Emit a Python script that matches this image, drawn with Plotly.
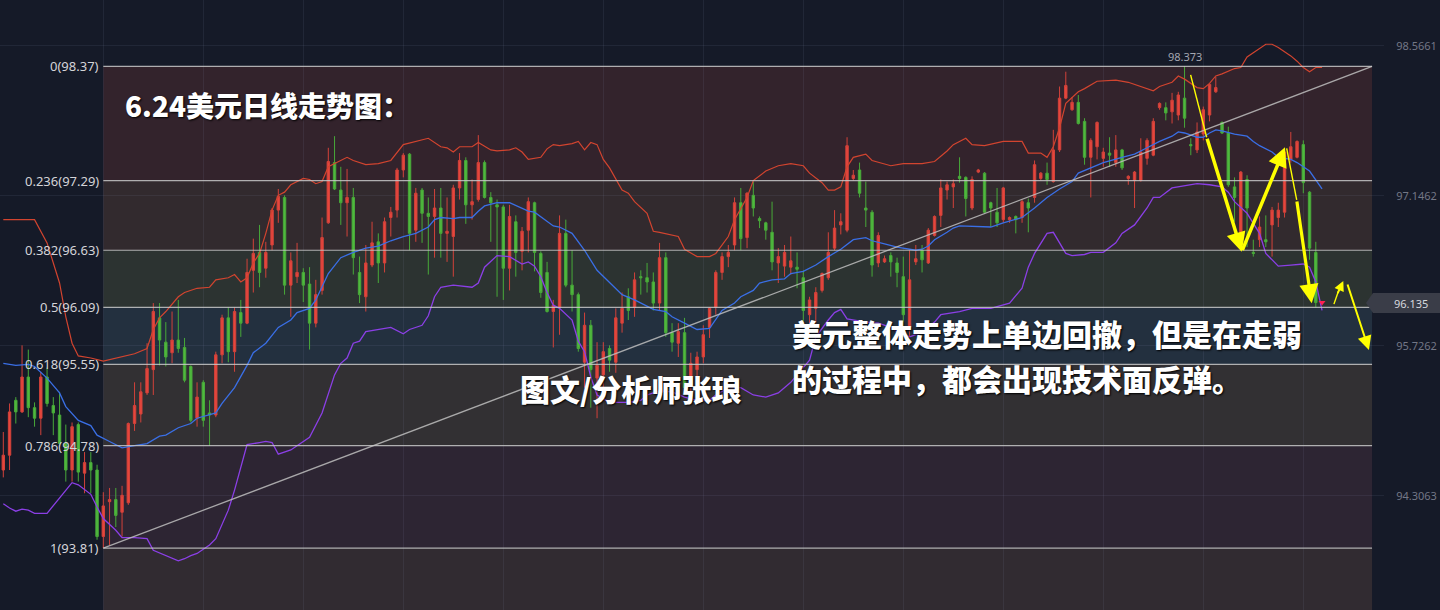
import plotly.graph_objects as go

# ---------------- data ----------------
days = list(range(211))

opens = [
    94.55, 94.69, 95.21, 95.10, 95.43, 95.14, 95.04, 95.43, 95.16, 95.07,
    94.80, 94.55, 94.98, 94.52, 94.62, 94.55, 93.92, 94.25, 94.27, 94.15,
    94.24, 94.99, 95.08, 95.28, 95.50, 95.99, 95.76, 95.66, 95.78, 95.71,
    95.53, 95.04, 95.38, 95.09, 95.07, 95.64, 95.99, 95.67, 96.04, 95.94,
    96.44, 96.61, 96.46, 96.68, 97.01, 97.13, 96.30, 96.38, 96.42, 96.31,
    95.94, 96.25, 96.89, 97.46, 97.20, 97.08, 97.13, 96.42, 96.19, 96.49,
    96.71, 96.51, 96.94, 97.01, 97.39, 97.54, 96.82, 97.20, 96.98, 96.95,
    97.03, 96.79, 96.76, 97.22, 97.48, 97.06, 97.11, 97.46, 97.13, 97.06,
    97.04, 96.46, 96.90, 96.62, 96.82, 97.08, 96.60, 96.42, 96.05, 96.09,
    96.79, 96.30, 96.21, 95.57, 95.92, 95.42, 95.45, 95.70, 95.57, 95.94,
    96.19, 96.09, 96.38, 96.37, 96.33, 96.13, 96.56, 95.85, 95.75, 95.85,
    95.34, 95.50, 95.62, 95.90, 96.09, 96.42, 96.57, 96.68, 97.08, 96.75,
    97.15, 96.93, 96.89, 96.80, 96.51, 96.48, 96.47, 96.47, 96.37, 96.02,
    96.08, 96.25, 96.37, 96.65, 96.87, 96.82, 97.31, 97.39, 97.03, 96.99,
    96.51, 96.52, 96.58, 96.51, 96.38, 95.89, 96.52, 96.63, 96.51, 96.77,
    96.96, 97.20, 97.23, 97.33, 97.32, 97.03, 97.37, 97.36, 97.08, 96.99,
    96.92, 96.92, 96.95, 96.94, 97.08, 97.13, 97.31, 97.36, 97.28, 97.58,
    98.07, 97.96, 98.03, 97.85, 97.51, 97.61, 97.50, 97.55, 97.46, 97.58,
    97.31, 97.29, 97.29, 97.50, 97.53, 97.98, 97.98, 97.94, 97.91, 98.07,
    97.63, 97.58, 97.73, 97.91, 98.13, 97.84, 97.74, 97.23, 96.79, 97.30,
    96.61, 96.73, 96.73, 96.87, 96.94, 96.99, 97.49, 97.51, 97.63, 97.18, 96.61,
]
highs = [
    94.91, 95.18, 95.24, 95.73, 95.69, 95.19, 95.48, 95.52, 95.24, 95.29,
    94.98, 95.00, 95.00, 94.72, 94.72, 94.60, 94.34, 94.38, 94.38, 94.40,
    95.00, 95.38, 95.38, 95.75, 96.13, 96.13, 95.95, 96.05, 96.16, 95.80,
    95.54, 95.38, 95.40, 95.21, 95.67, 96.02, 96.09, 96.09, 96.16, 96.55,
    96.74, 96.87, 96.71, 97.03, 97.21, 97.15, 96.61, 96.70, 96.46, 96.47,
    96.35, 96.94, 97.60, 97.71, 97.42, 97.40, 97.22, 96.57, 96.68, 96.90,
    96.79, 96.94, 97.04, 97.41, 97.55, 97.55, 97.22, 97.22, 97.13, 97.21,
    97.22, 97.13, 97.25, 97.55, 97.51, 97.30, 97.72, 97.48, 97.18, 97.11,
    97.06, 97.06, 96.96, 96.85, 97.13, 97.09, 96.62, 96.52, 96.16, 96.96,
    96.92, 96.63, 96.23, 96.04, 95.97, 95.76, 95.76, 95.73, 96.08, 96.23,
    96.27, 96.42, 96.44, 96.51, 96.42, 96.70, 96.61, 95.94, 95.94, 95.99,
    95.66, 95.67, 95.92, 96.09, 96.44, 96.61, 96.68, 97.13, 97.22, 97.18,
    97.28, 96.95, 96.90, 97.09, 96.65, 96.68, 96.76, 96.61, 96.44, 96.19,
    96.28, 96.42, 96.80, 97.01, 96.98, 97.70, 97.39, 97.46, 97.28, 97.01,
    96.80, 96.58, 96.61, 96.56, 96.57, 96.63, 96.68, 96.68, 96.84, 96.96,
    97.30, 97.28, 97.30, 97.51, 97.33, 97.33, 97.40, 97.37, 97.09, 97.22,
    97.23, 96.95, 96.96, 97.11, 97.12, 97.48, 97.37, 97.46, 97.77, 98.18,
    98.32, 98.08, 98.10, 97.88, 97.69, 97.85, 97.60, 97.70, 97.72, 97.59,
    97.34, 97.38, 97.69, 97.69, 97.88, 98.03, 98.03, 98.12, 98.13, 98.373,
    97.69, 97.84, 97.99, 98.21, 98.27, 97.85, 97.80, 97.32, 97.38, 97.34,
    96.73, 96.95, 96.96, 97.04, 97.08, 97.58, 97.75, 97.67, 97.67, 97.19, 96.71,
]
lows = [
    94.48, 94.55, 94.99, 95.09, 95.05, 94.96, 94.88, 95.15, 94.88, 94.79,
    94.44, 94.44, 94.44, 94.33, 94.33, 93.89, 93.81, 93.84, 94.01, 93.92,
    94.22, 94.92, 95.00, 95.26, 95.26, 95.54, 95.53, 95.56, 95.66, 95.38,
    95.00, 94.96, 94.96, 94.78, 95.05, 95.56, 95.57, 95.48, 95.81, 95.93,
    96.23, 96.28, 96.37, 96.63, 96.89, 96.21, 96.00, 96.32, 96.14, 95.69,
    95.90, 96.21, 96.88, 97.20, 96.87, 96.76, 96.40, 96.13, 96.05, 96.47,
    96.32, 96.42, 96.76, 96.94, 97.32, 96.63, 96.71, 96.70, 96.40, 96.56,
    96.56, 96.52, 96.38, 97.11, 96.88, 96.92, 97.09, 97.12, 96.71, 96.19,
    96.16, 96.25, 96.38, 96.44, 96.61, 96.43, 96.18, 96.04, 95.71, 95.83,
    96.28, 96.05, 95.67, 95.33, 95.14, 95.04, 95.24, 95.48, 95.47, 95.85,
    95.97, 96.00, 96.21, 96.23, 96.06, 96.06, 95.81, 95.67, 95.62, 95.28,
    95.17, 95.28, 95.56, 95.80, 96.02, 96.35, 96.47, 96.63, 96.63, 96.65,
    96.95, 96.84, 96.73, 96.44, 96.32, 96.38, 96.40, 96.27, 95.90, 95.94,
    95.90, 96.23, 96.35, 96.63, 96.78, 96.80, 97.29, 97.13, 96.85, 96.38,
    96.47, 96.51, 96.38, 96.28, 95.73, 95.81, 96.49, 96.42, 96.50, 96.76,
    96.85, 97.11, 97.03, 97.27, 96.95, 97.01, 97.36, 96.98, 96.85, 96.85,
    96.89, 96.89, 96.79, 96.89, 96.80, 97.08, 97.29, 97.25, 97.27, 97.56,
    98.06, 97.95, 97.82, 97.44, 97.13, 97.49, 97.42, 97.42, 97.42, 97.39,
    97.25, 97.03, 97.28, 97.44, 97.52, 97.96, 97.86, 97.83, 97.86, 97.79,
    97.53, 97.55, 97.67, 97.85, 98.12, 97.73, 97.23, 96.90, 96.73, 96.66,
    96.57, 96.66, 96.66, 96.57, 96.85, 96.94, 97.46, 97.50, 97.17, 96.54, 96.09,
]
closes = [
    94.69, 95.10, 95.10, 95.43, 95.14, 95.04, 95.43, 95.18, 95.09, 94.80,
    94.55, 94.96, 94.53, 94.62, 94.55, 93.92, 94.21, 94.27, 94.12, 94.31,
    94.99, 95.16, 95.29, 95.51, 96.05, 95.78, 95.62, 95.78, 95.70, 95.40,
    95.02, 95.24, 95.02, 95.07, 95.64, 95.99, 95.67, 96.05, 95.94, 96.42,
    96.60, 96.42, 96.61, 97.01, 97.14, 96.30, 96.53, 96.42, 96.30, 95.94,
    96.21, 96.75, 97.47, 97.21, 97.08, 97.13, 96.56, 96.21, 96.51, 96.70,
    96.51, 96.90, 96.99, 97.39, 97.53, 96.79, 97.17, 96.98, 96.95, 97.03,
    96.79, 96.81, 97.22, 97.48, 97.06, 97.09, 97.46, 97.13, 97.08, 97.04,
    96.46, 96.95, 96.61, 96.81, 97.09, 96.61, 96.23, 96.05, 96.11, 96.79,
    96.30, 96.21, 95.70, 95.92, 95.50, 95.54, 95.67, 95.59, 95.99, 96.08,
    96.06, 96.35, 96.37, 96.33, 96.13, 96.56, 95.85, 95.76, 95.86, 95.33,
    95.56, 95.62, 95.83, 96.08, 96.42, 96.57, 96.61, 97.08, 96.74, 97.17,
    97.03, 96.91, 96.82, 96.52, 96.57, 96.61, 96.53, 96.45, 96.06, 96.16,
    96.23, 96.41, 96.61, 96.84, 96.90, 97.62, 97.34, 97.17, 97.01, 96.49,
    96.77, 96.55, 96.52, 96.42, 96.02, 96.35, 96.55, 96.54, 96.82, 96.95,
    97.22, 97.25, 97.26, 97.31, 97.12, 97.30, 97.39, 96.99, 97.03, 96.89,
    97.22, 96.94, 96.92, 97.09, 97.03, 97.44, 97.36, 97.30, 97.58, 98.07,
    98.19, 98.03, 97.83, 97.51, 97.67, 97.84, 97.56, 97.53, 97.58, 97.41,
    97.33, 97.37, 97.56, 97.67, 97.85, 98.02, 97.93, 98.05, 98.10, 97.88,
    97.62, 97.75, 97.96, 98.20, 98.17, 97.74, 97.25, 97.13, 97.37, 97.03,
    96.60, 96.85, 96.71, 97.01, 97.01, 97.56, 97.61, 97.66, 97.27, 96.65, 96.135,
]

# Bollinger bands: (day index, price)
upper_band = [
    (0, 96.92), (5, 96.92), (7, 96.70), (9, 96.32), (10, 96.00), (11, 95.75), (12, 95.63),
    (14, 95.61), (16, 95.58), (18, 95.61), (21, 95.65), (23, 95.70), (24, 95.88), (25, 95.99),
    (26, 96.05), (28, 96.19), (29, 96.23), (31, 96.27), (33, 96.28), (34, 96.35), (36, 96.37),
    (37, 96.40), (38, 96.33), (39, 96.37), (40, 96.51), (41, 96.60), (42, 96.79), (43, 97.01),
    (44, 97.15), (45, 97.18), (46, 97.25), (48, 97.31), (49, 97.30), (50, 97.26), (51, 97.28),
    (52, 97.42), (53, 97.45), (55, 97.51), (56, 97.48), (58, 97.44), (60, 97.45), (62, 97.48),
    (64, 97.63), (66, 97.66), (68, 97.69), (70, 97.61), (71, 97.60), (72, 97.56), (73, 97.61),
    (75, 97.61), (76, 97.65), (78, 97.58), (79, 97.57), (81, 97.58), (82, 97.60), (83, 97.56),
    (84, 97.49), (86, 97.51), (87, 97.59), (88, 97.63), (89, 97.62), (91, 97.64), (92, 97.66),
    (93, 97.58), (94, 97.65), (95, 97.63), (96, 97.49), (97, 97.41), (99, 97.20), (100, 97.17),
    (101, 97.09), (103, 96.98), (104, 96.81), (105, 96.80), (108, 96.76), (109, 96.64),
    (111, 96.57), (113, 96.57), (114, 96.60), (116, 96.76), (117, 96.92), (119, 97.13),
    (120, 97.29), (122, 97.38), (124, 97.43), (126, 97.45), (128, 97.43), (129, 97.36),
    (131, 97.27), (132, 97.20), (133, 97.20), (134, 97.23), (135, 97.42), (136, 97.51),
    (138, 97.54), (139, 97.48), (141, 97.45), (142, 97.43), (144, 97.45), (147, 97.45),
    (149, 97.47), (151, 97.57), (152, 97.63), (153, 97.66), (154, 97.69), (155, 97.63),
    (157, 97.62), (160, 97.66), (163, 97.66), (164, 97.55), (166, 97.55), (167, 97.51),
    (168, 97.61), (169, 97.79), (170, 98.02), (172, 98.13), (173, 98.16), (175, 98.23),
    (178, 98.24), (180, 98.22), (182, 98.18), (184, 98.14), (185, 98.18), (187, 98.22),
    (188, 98.28), (189, 98.25), (191, 98.17), (192, 98.16), (193, 98.21), (194, 98.28),
    (195, 98.30), (197, 98.35), (198, 98.36), (199, 98.46), (200, 98.50), (202, 98.58),
    (203, 98.58), (204, 98.55), (206, 98.47), (207, 98.42), (208, 98.36), (209, 98.32),
    (210, 98.36), (211, 98.36),
]
middle_band = [
    (0, 95.56), (2, 95.54), (4, 95.55), (5, 95.53), (7, 95.42), (9, 95.28), (10, 95.15),
    (12, 95.02), (14, 94.97), (15, 94.88), (17, 94.82), (19, 94.76), (21, 94.78), (23, 94.80),
    (25, 94.87), (26, 94.88), (28, 94.95), (30, 94.99), (31, 95.04), (34, 95.09), (35, 95.18),
    (37, 95.33), (39, 95.54), (40, 95.66), (42, 95.75), (44, 95.90), (46, 95.97), (47, 96.04),
    (49, 96.08), (50, 96.16), (52, 96.41), (54, 96.56), (56, 96.61), (58, 96.65), (60, 96.67),
    (62, 96.72), (64, 96.76), (66, 96.79), (68, 96.85), (69, 96.92), (70, 96.94), (72, 96.93),
    (73, 96.94), (75, 96.94), (76, 97.00), (77, 97.05), (79, 97.08), (81, 97.08), (84, 97.00),
    (85, 96.99), (88, 96.86), (89, 96.85), (91, 96.79), (93, 96.63), (95, 96.44), (97, 96.32),
    (99, 96.21), (101, 96.16), (102, 96.13), (104, 96.07), (106, 96.05), (107, 96.00),
    (109, 95.94), (111, 95.88), (113, 95.89), (114, 95.97), (115, 96.06), (117, 96.13),
    (118, 96.19), (120, 96.25), (121, 96.32), (123, 96.35), (125, 96.36), (126, 96.41),
    (128, 96.43), (130, 96.49), (132, 96.57), (134, 96.64), (136, 96.73), (138, 96.75),
    (139, 96.72), (141, 96.69), (143, 96.66), (146, 96.63), (147, 96.64), (148, 96.67),
    (149, 96.73), (151, 96.80), (152, 96.84), (153, 96.86), (158, 96.85), (160, 96.89),
    (162, 96.92), (163, 96.94), (165, 97.03), (167, 97.13), (169, 97.21), (171, 97.28),
    (172, 97.36), (174, 97.41), (176, 97.46), (179, 97.51), (181, 97.54), (183, 97.60),
    (185, 97.66), (187, 97.71), (188, 97.75), (189, 97.74), (191, 97.70), (192, 97.70),
    (193, 97.74), (194, 97.77), (195, 97.76), (197, 97.73), (199, 97.71), (200, 97.66),
    (201, 97.62), (203, 97.56), (204, 97.51), (206, 97.49), (207, 97.46), (209, 97.38),
    (210, 97.30), (211, 97.21),
]
lower_band = [
    (0, 94.23), (1, 94.19), (2, 94.16), (3, 94.18), (4, 94.17), (5, 94.14), (7, 94.14),
    (9, 94.29), (11, 94.43), (12, 94.41), (14, 94.32), (15, 94.20), (16, 94.09), (18, 93.98),
    (19, 93.91), (21, 93.91), (23, 93.90), (24, 93.79), (26, 93.74), (28, 93.69), (29, 93.71),
    (30, 93.74), (31, 93.76), (33, 93.84), (34, 93.90), (36, 94.17), (37, 94.36), (39, 94.79),
    (41, 94.81), (42, 94.82), (43, 94.81), (44, 94.70), (46, 94.74), (47, 94.78), (49, 94.86),
    (51, 95.09), (52, 95.28), (53, 95.45), (54, 95.56), (55, 95.61), (56, 95.75), (57, 95.77),
    (58, 95.86), (60, 95.88), (62, 95.90), (64, 95.84), (65, 95.88), (67, 95.92), (68, 96.01),
    (69, 96.19), (70, 96.28), (72, 96.30), (75, 96.28), (76, 96.32), (77, 96.47), (79, 96.58),
    (81, 96.57), (83, 96.50), (84, 96.52), (85, 96.48), (86, 96.38), (87, 96.23), (88, 96.11),
    (89, 96.08), (91, 95.97), (92, 95.77), (93, 95.67), (94, 95.43), (95, 95.26), (97, 95.19),
    (100, 95.19), (102, 95.21), (103, 95.26), (105, 95.30), (107, 95.29), (109, 95.24),
    (111, 95.21), (113, 95.21), (114, 95.26), (116, 95.33), (118, 95.33), (120, 95.26),
    (122, 95.24), (124, 95.28), (126, 95.38), (129, 95.59), (130, 95.81), (132, 95.97),
    (133, 96.04), (134, 96.07), (135, 95.98), (138, 95.95), (140, 95.94), (142, 95.90),
    (143, 95.86), (145, 95.81), (147, 95.85), (149, 95.95), (150, 96.02), (153, 96.05),
    (155, 96.08), (158, 96.08), (161, 96.13), (163, 96.27), (164, 96.47), (165, 96.60),
    (167, 96.79), (168, 96.80), (169, 96.70), (170, 96.60), (171, 96.58), (173, 96.59),
    (174, 96.61), (176, 96.61), (178, 96.70), (179, 96.79), (181, 96.87), (183, 97.03),
    (184, 97.13), (185, 97.13), (187, 97.22), (189, 97.24), (191, 97.26), (193, 97.25),
    (195, 97.23), (196, 97.18), (197, 97.09), (199, 96.98), (201, 96.79), (202, 96.60),
    (204, 96.48), (206, 96.49), (208, 96.50), (209, 96.47), (210, 96.33), (211, 96.06),
]

fib_ratios = ["0", "0.236", "0.382", "0.5", "0.618", "0.786", "1"]
fib_prices = [98.37, 97.29, 96.63, 96.09, 95.55, 94.78, 93.81]
fib_span = (16, 219)
trend_line = [(16, 93.81), (219, 98.37)]
right_ticks = [98.5661, 97.1462, 95.7262, 94.3063]
last_price = 96.135
swing_high = (189, 98.373)

# yellow arrows (tail day, tail price, head day, head price, width, head size)
thin_leads = [(189.97, 98.29, 192.54, 97.70), (205.34, 97.595, 206.94, 97.106),
              (212.9, 96.12, 213.6, 96.24)]
arrows = [
    (192.54, 97.70, 198.15, 96.617, 3.5, 1.1),
    (198.15, 96.617, 205.07, 97.605, 3.5, 1.1),
    (206.94, 97.106, 209.34, 96.128, 3.2, 1.2),
    (213.4, 96.21, 214.4, 96.34, 2, 1.0),
    (215.0, 96.32, 218.5, 95.686, 2, 1.4),
]

title_text = "6.24美元日线走势图："
author_text = "图文/分析师张琅"
note_line1 = "美元整体走势上单边回撤，但是在走弱"
note_line2 = "的过程中，都会出现技术面反弹。"

# ---------------- figure ----------------
W, H = 1440, 610
ML, MR = 0, 56
BG = "#151a28"
zone_colors = ["#33232c", "#322a2e", "#2c3331", "#23303f", "#323033", "#2d2533", "#312b31"]

fig = go.Figure()

fig.add_trace(go.Candlestick(
    x=days, open=opens, high=highs, low=lows, close=closes,
    increasing=dict(line=dict(color="#d2423a", width=1), fillcolor="#e6463c"),
    decreasing=dict(line=dict(color="#48a939", width=1), fillcolor="#4fb93e"),
    whiskerwidth=0, hoverinfo="skip", showlegend=False,
))

for band, col, w in [(upper_band, "#d2442f", 1.2), (middle_band, "#3a6fe6", 1.3), (lower_band, "#8b3fe6", 1.3)]:
    fig.add_trace(go.Scatter(
        x=[p[0] for p in band], y=[p[1] for p in band], mode="lines",
        line=dict(color=col, width=w), hoverinfo="skip", showlegend=False,
    ))

fig.add_trace(go.Scatter(
    x=[p[0] for p in trend_line], y=[p[1] for p in trend_line], mode="lines",
    line=dict(color="rgba(190,190,190,0.85)", width=1.3), hoverinfo="skip", showlegend=False,
))

fig.add_trace(go.Scatter(
    x=[211], y=[last_price], mode="markers",
    marker=dict(symbol="triangle-down", size=6, color="#ff2050"),
    hoverinfo="skip", showlegend=False,
))

shapes = []
levels = fib_prices + [90.0]
for k in range(len(fib_prices)):
    shapes.append(dict(type="rect", xref="x", yref="y", x0=fib_span[0], x1=fib_span[1],
                       y0=levels[k], y1=levels[k + 1], fillcolor=zone_colors[k],
                       line=dict(width=0), layer="below"))
for p in fib_prices:
    shapes.append(dict(type="line", xref="x", yref="y", x0=fib_span[0], x1=fib_span[1],
                       y0=p, y1=p, line=dict(color="rgba(200,200,200,0.85)", width=1.2),
                       layer="above"))
for (x0, y0, x1, y1) in thin_leads:
    shapes.append(dict(type="line", xref="x", yref="y", x0=x0, y0=y0, x1=x1, y1=y1,
                       line=dict(color="#ffff00", width=1.4), layer="above"))

# price box on right axis
px_w = W - ML - MR
def paper_x(px):
    return (px - ML) / px_w
def paper_y(py):
    return (H - py) / H
shapes.append(dict(type="path", xref="paper", yref="paper",
                   path=(f"M {paper_x(1366)},{paper_y(303)} L {paper_x(1373)},{paper_y(293)} "
                         f"L {paper_x(1440)},{paper_y(293)} L {paper_x(1440)},{paper_y(313)} "
                         f"L {paper_x(1373)},{paper_y(313)} Z"),
                   fillcolor="#3a3d48", line=dict(width=0), layer="above"))

annotations = []
for r, p in zip(fib_ratios, fib_prices):
    annotations.append(dict(x=fib_span[0], y=p, xref="x", yref="y", text=f"{r}({p:.2f})",
                            showarrow=False, xanchor="right", yanchor="middle", xshift=-2,
                            font=dict(family="Noto Sans", size=13, color="#d4d4d8")))

annotations.append(dict(x=swing_high[0], y=swing_high[1], xref="x", yref="y",
                        text=f"{swing_high[1]:.3f}", showarrow=False, yanchor="bottom", yshift=0,
                        font=dict(family="Noto Sans", size=11, color="#a4a6b0")))

annotations.append(dict(x=paper_x(1411), y=paper_y(303), xref="paper", yref="paper",
                        text=f"{last_price:.3f}", showarrow=False, xanchor="center", yanchor="middle",
                        font=dict(family="Noto Sans", size=11, color="#d6d8de")))

for (tx, ty, hx, hy, w, hs) in arrows:
    annotations.append(dict(x=hx, y=hy, ax=tx, ay=ty, xref="x", yref="y", axref="x", ayref="y",
                            text="", showarrow=True, arrowhead=2, arrowsize=hs, arrowwidth=w,
                            arrowcolor="#ffff00", standoff=0, startstandoff=0))

txt_font = dict(family="Noto Sans CJK SC", color="#ffffff", weight=900, shadow="1px 1px 2px #000000")
annotations.append(dict(x=paper_x(123), y=paper_y(105), xref="paper", yref="paper", text=title_text,
                        showarrow=False, xanchor="left", yanchor="middle", font=dict(size=28, **txt_font)))
annotations.append(dict(x=paper_x(518), y=paper_y(388), xref="paper", yref="paper", text=author_text,
                        showarrow=False, xanchor="left", yanchor="middle", font=dict(size=30, **txt_font)))
annotations.append(dict(x=paper_x(790), y=paper_y(333), xref="paper", yref="paper", text=note_line1,
                        showarrow=False, xanchor="left", yanchor="middle", font=dict(size=30, **txt_font)))
annotations.append(dict(x=paper_x(790), y=paper_y(378), xref="paper", yref="paper", text=note_line2,
                        showarrow=False, xanchor="left", yanchor="middle", font=dict(size=30, **txt_font)))

grid = "rgba(140,150,180,0.11)"
x_lo = (0 - 3.3) / 6.25
x_hi = (W - MR - 3.3) / 6.25
y_hi = 98.999
y_lo = 98.999 - 0.009466 * H

fig.update_layout(
    width=W, height=H, autosize=False,
    margin=dict(l=ML, r=MR, t=0, b=0),
    paper_bgcolor=BG, plot_bgcolor=BG,
    shapes=shapes, annotations=annotations,
    boxgap=0.45,
    xaxis=dict(range=[x_lo, x_hi], tickvals=list(range(16, 220, 16)), showticklabels=False,
               showgrid=True, gridcolor=grid, gridwidth=1, zeroline=False, showline=False,
               rangeslider=dict(visible=False), ticks="", fixedrange=True),
    yaxis=dict(range=[y_lo, y_hi], side="right", tickvals=right_ticks,
               ticktext=[f"{v:.4f}" for v in right_ticks], showgrid=True, gridcolor=grid,
               zeroline=False, showline=False, ticks="outside", ticklen=9,
               tickcolor="rgba(0,0,0,0)", tickfont=dict(family="Noto Sans", size=11, color="#737786"),
               fixedrange=True),
    showlegend=False,
)

fig.write_html(
    "out.html",
    config={"displayModeBar": False},
    post_script="document.body.style.margin='0';document.body.style.background='#151a28';"
                "document.documentElement.style.overflow='hidden';",
)
